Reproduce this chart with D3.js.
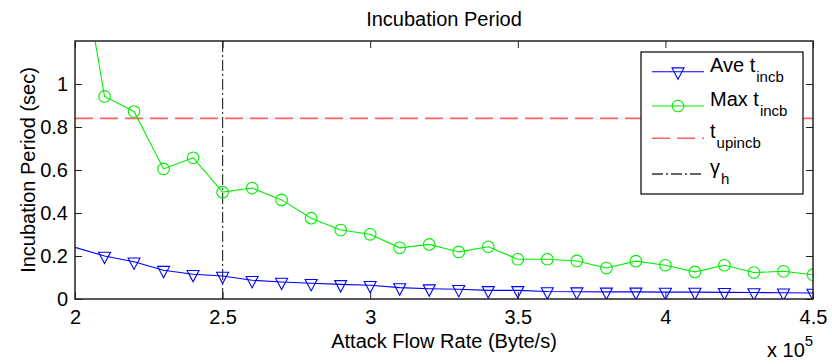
<!DOCTYPE html>
<html>
<head>
<meta charset="utf-8">
<script src="https://cdn.jsdelivr.net/npm/d3@7"></script>
<style>
body { margin: 0; background: #fff; }
svg text { font-family: "Liberation Sans", Arial, Helvetica, sans-serif; fill: #000; }
</style>
</head>
<body>
<svg id="chart" width="832" height="364"></svg>
<script>
// attack flow rate (x 10^5 Byte/s)
var rates = [2.0, 2.1, 2.2, 2.3, 2.4, 2.5, 2.6, 2.7, 2.8, 2.9, 3.0, 3.1, 3.2,
	3.3, 3.4, 3.5, 3.6, 3.7, 3.8, 3.9, 4.0, 4.1, 4.2, 4.3, 4.4, 4.5];
var aveIncb = [0.240, 0.200, 0.173, 0.134, 0.115, 0.107, 0.087, 0.079, 0.073, 0.068, 0.064, 0.053, 0.048,
	0.045, 0.040, 0.040, 0.035, 0.034, 0.033, 0.033, 0.032, 0.032, 0.031, 0.030, 0.029, 0.028];
var maxIncb = [1.75, 0.942, 0.872, 0.605, 0.657, 0.497, 0.516, 0.461, 0.376, 0.321, 0.301, 0.238, 0.254,
	0.219, 0.243, 0.185, 0.185, 0.177, 0.144, 0.176, 0.157, 0.126, 0.157, 0.123, 0.129, 0.113];
var tUpIncb = 0.84;
var gammaH = 2.5;
var xTicks = [2, 2.5, 3, 3.5, 4, 4.5];
var yTicks = [0, 0.2, 0.4, 0.6, 0.8, 1];

var svg = d3.select("#chart");
var pLeft = 75, pRight = 813, pTop = 41, pBottom = 299;
var fontSize = "20px", subSize = "15px";

var x = d3.scaleLinear().domain([2, 4.5]).range([pLeft, pRight]);
var y = d3.scaleLinear().domain([0, 1.2]).range([pBottom, pTop]);

svg.append("defs").append("clipPath").attr("id", "clip")
	.append("rect").attr("x", pLeft).attr("y", pTop)
	.attr("width", pRight - pLeft).attr("height", pBottom - pTop);

// title and labels
svg.append("text").attr("x", (pLeft + pRight) / 2).attr("y", 26)
	.attr("text-anchor", "middle").style("font-size", fontSize).text("Incubation Period");
svg.append("text").attr("x", (pLeft + pRight) / 2).attr("y", 348)
	.attr("text-anchor", "middle").style("font-size", fontSize).text("Attack Flow Rate (Byte/s)");
svg.append("text").attr("transform", "translate(35," + ((pTop + pBottom) / 2) + ") rotate(-90)")
	.attr("text-anchor", "middle").style("font-size", fontSize).text("Incubation Period (sec)");
var mult = svg.append("text").attr("x", 767).attr("y", 357).style("font-size", fontSize);
mult.append("tspan").text("x 10");
mult.append("tspan").attr("dy", -11).style("font-size", subSize).text("5");

// axes (ticks inside, box on)
var axisColor = "#222";
function styleAxis(g) {
	g.select(".domain").remove();
	g.selectAll(".tick line").attr("stroke", axisColor).attr("stroke-width", 1);
	g.selectAll(".tick text").style("font-size", fontSize).attr("fill", "#000");
}
svg.append("g").attr("transform", "translate(0," + pBottom + ")")
	.call(d3.axisBottom(x).tickValues(xTicks).tickSizeInner(-7).tickPadding(11).tickFormat(d3.format("")))
	.call(styleAxis);
svg.append("g").attr("transform", "translate(" + pLeft + ",0)")
	.call(d3.axisLeft(y).tickValues(yTicks).tickSizeInner(-7).tickPadding(7).tickFormat(d3.format("")))
	.call(styleAxis);
svg.append("g").attr("transform", "translate(0," + pTop + ")")
	.call(d3.axisTop(x).tickValues(xTicks).tickSizeInner(-7).tickFormat(""))
	.call(styleAxis);
svg.append("g").attr("transform", "translate(" + pRight + ",0)")
	.call(d3.axisRight(y).tickValues(yTicks).tickSizeInner(-7).tickFormat(""))
	.call(styleAxis);

var plot = svg.append("g").attr("clip-path", "url(#clip)");

// reference lines
plot.append("line")
	.attr("x1", pLeft).attr("x2", pRight).attr("y1", y(tUpIncb)).attr("y2", y(tUpIncb))
	.attr("stroke", "#ff6060").attr("stroke-width", 1.6).attr("stroke-dasharray", "18,7");
plot.append("line")
	.attr("x1", x(gammaH)).attr("x2", x(gammaH)).attr("y1", pTop).attr("y2", pBottom)
	.attr("stroke", "#333").attr("stroke-width", 1.2).attr("stroke-dasharray", "11,3,2,3");

var line = d3.line().x(function(d) { return x(d.x); }).y(function(d) { return y(d.y); });
var aveData = rates.map(function(r, i) { return {x: r, y: aveIncb[i]}; });
var maxData = rates.map(function(r, i) { return {x: r, y: maxIncb[i]}; });

plot.append("path").datum(aveData).attr("d", line)
	.attr("fill", "none").attr("stroke", "#0000ff").attr("stroke-width", 1.1);
plot.append("path").datum(maxData).attr("d", line)
	.attr("fill", "none").attr("stroke", "#00ee00").attr("stroke-width", 1.1);

// markers (down triangles centred on centroid, circles)
var triPath = "M-6,-3.8L6,-3.8L0,7.6Z";
plot.selectAll(".tri").data(aveData.filter(function(d) { return d.x > 2; }))
	.enter().append("path").attr("class", "tri")
	.attr("d", triPath)
	.attr("transform", function(d) { return "translate(" + x(d.x) + "," + y(d.y) + ")"; })
	.attr("fill", "none").attr("stroke", "#0000ff").attr("stroke-width", 1.1);
plot.selectAll(".dot").data(maxData.filter(function(d) { return d.x > 2; }))
	.enter().append("circle").attr("class", "dot")
	.attr("r", 5.8).attr("cx", function(d) { return x(d.x); }).attr("cy", function(d) { return y(d.y); })
	.attr("fill", "none").attr("stroke", "#00ee00").attr("stroke-width", 1.1);

// axes box
svg.append("rect").attr("x", pLeft).attr("y", pTop)
	.attr("width", pRight - pLeft).attr("height", pBottom - pTop)
	.attr("fill", "none").attr("stroke", axisColor).attr("stroke-width", 1.5);

// legend
var legend = svg.append("g");
legend.append("rect").attr("x", 641).attr("y", 52).attr("width", 162).attr("height", 142)
	.attr("fill", "#fff").attr("stroke", "#000").attr("stroke-width", 1.2);
var entries = [
	{main: "Ave t", sub: "incb", y: 71.7, color: "#0000ff", dash: null, marker: "tri"},
	{main: "Max t", sub: "incb", y: 106, color: "#00ee00", dash: null, marker: "circle"},
	{main: "t", sub: "upincb", y: 138.3, color: "#ff6060", dash: "18,7", marker: null},
	{main: "\u03b3", sub: "h", y: 174, color: "#333", dash: "11,3,2,3", marker: null}
];
entries.forEach(function(e) {
	legend.append("line").attr("x1", 652).attr("x2", 704).attr("y1", e.y).attr("y2", e.y)
		.attr("stroke", e.color).attr("stroke-width", e.dash ? 1.6 : 1.1)
		.attr("stroke-dasharray", e.dash);
	if (e.marker == "tri") {
		legend.append("path").attr("d", triPath).attr("transform", "translate(678," + e.y + ")")
			.attr("fill", "none").attr("stroke", e.color).attr("stroke-width", 1.1);
	} else if (e.marker == "circle") {
		legend.append("circle").attr("cx", 678).attr("cy", e.y).attr("r", 5.8)
			.attr("fill", "none").attr("stroke", e.color).attr("stroke-width", 1.1);
	}
	var t = legend.append("text").attr("x", 710).attr("y", e.y).style("font-size", fontSize);
	t.append("tspan").text(e.main);
	t.append("tspan").attr("dx", 1).attr("dy", 10).style("font-size", subSize).text(e.sub);
});
</script>
</body>
</html>
